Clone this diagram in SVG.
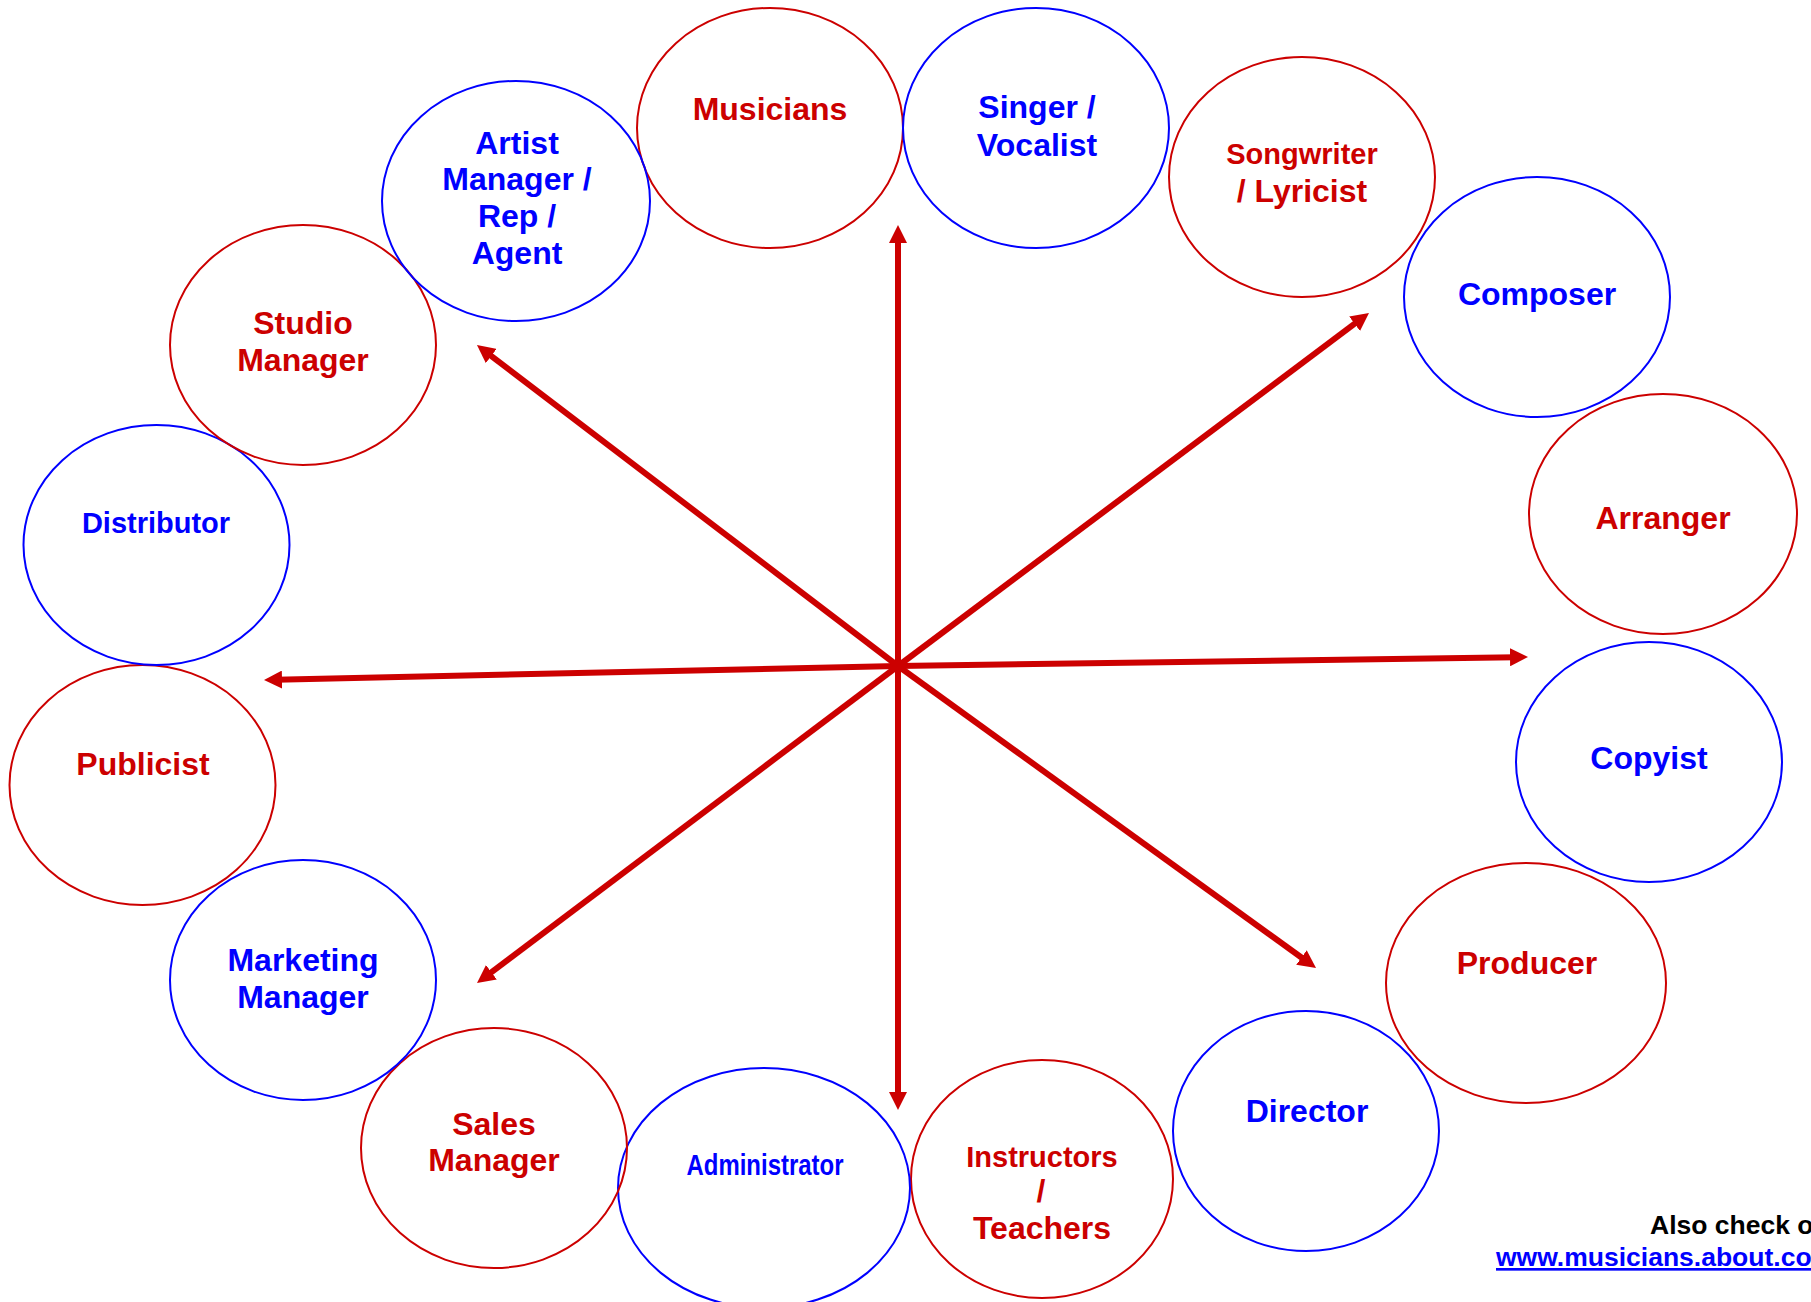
<svg xmlns="http://www.w3.org/2000/svg" width="1811" height="1302" viewBox="0 0 1811 1302">
<style>
.r ellipse{fill:none;stroke:#CC0000;stroke-width:2}
.b ellipse{fill:none;stroke:#0000FF;stroke-width:2}
text{font-family:"Liberation Sans",Arial,sans-serif;font-weight:bold;text-anchor:middle}
.r text{fill:#CC0000}
.b text{fill:#0000FF}
.f32{font-size:32px}
.f29{font-size:29px}
#connectors line{stroke:#CC0000;stroke-width:6;marker-end:url(#ah)}
.note{fill:#000;font-size:26.5px;text-anchor:start}
.link{fill:#0000FF;font-size:26.5px;text-anchor:start;text-decoration:underline}
</style>
<defs>
<marker id="ah" markerUnits="userSpaceOnUse" markerWidth="18" markerHeight="18" viewBox="0 0 18 18" refX="6" refY="9" orient="auto">
<path d="M0,0 L18,9 L0,18 z" fill="#CC0000"/>
</marker>
</defs>
<rect width="1811" height="1302" fill="#fff"/>

<g id="musicians" class="r"><ellipse cx="770" cy="128" rx="133" ry="120"/><text class="f32" x="770" y="120">Musicians</text></g>
<g id="singer" class="b"><ellipse cx="1036" cy="128" rx="133" ry="120"/><text class="f32" x="1037" y="118">Singer /</text><text class="f32" x="1037" y="156">Vocalist</text></g>
<g id="songwriter" class="r"><ellipse cx="1302" cy="177" rx="133" ry="120"/><text class="f29" x="1302" y="164">Songwriter</text><text class="f32" x="1302" y="202">/ Lyricist</text></g>
<g id="composer" class="b"><ellipse cx="1537" cy="297" rx="133" ry="120"/><text class="f32" x="1537" y="305">Composer</text></g>
<g id="arranger" class="r"><ellipse cx="1663" cy="514" rx="134" ry="120"/><text class="f32" x="1663" y="529">Arranger</text></g>
<g id="copyist" class="b"><ellipse cx="1649" cy="762" rx="133" ry="120"/><text class="f32" x="1649" y="769">Copyist</text></g>
<g id="producer" class="r"><ellipse cx="1526" cy="983" rx="140" ry="120"/><text class="f32" x="1527" y="974">Producer</text></g>
<g id="director" class="b"><ellipse cx="1306" cy="1131" rx="133" ry="120"/><text class="f32" x="1307" y="1122">Director</text></g>
<g id="instructors" class="r"><ellipse cx="1042" cy="1179" rx="131" ry="119"/><text class="f29" x="1042" y="1167">Instructors</text><text class="f32" x="1041" y="1202">/</text><text class="f32" x="1042" y="1239">Teachers</text></g>
<g id="administrator" class="b"><ellipse cx="764" cy="1188" rx="146" ry="120"/><text x="765" y="1175" style="font-size:30px" textLength="157" lengthAdjust="spacingAndGlyphs">Administrator</text></g>
<g id="sales" class="r"><ellipse cx="494" cy="1148" rx="133" ry="120"/><text class="f32" x="494" y="1135">Sales</text><text class="f32" x="494" y="1171">Manager</text></g>
<g id="marketing" class="b"><ellipse cx="303" cy="980" rx="133" ry="120"/><text class="f32" x="303" y="971">Marketing</text><text class="f32" x="303" y="1008">Manager</text></g>
<g id="publicist" class="r"><ellipse cx="142.5" cy="785" rx="133" ry="120"/><text class="f32" x="143" y="775">Publicist</text></g>
<g id="distributor" class="b"><ellipse cx="156.5" cy="545" rx="133" ry="120"/><text class="f29" x="156" y="533">Distributor</text></g>
<g id="studio" class="r"><ellipse cx="303" cy="345" rx="133" ry="120"/><text class="f32" x="303" y="334">Studio</text><text class="f32" x="303" y="371">Manager</text></g>
<g id="artist" class="b"><ellipse cx="516" cy="201" rx="134" ry="120"/><text class="f32" x="517" y="154">Artist</text><text class="f32" x="517" y="190">Manager /</text><text class="f32" x="517" y="227">Rep /</text><text class="f32" x="517" y="264">Agent</text></g>

<g id="connectors">
<line x1="898" y1="666" x2="898" y2="237"/>
<line x1="898" y1="666" x2="898" y2="1098"/>
<line x1="898" y1="666" x2="276" y2="679.7"/>
<line x1="898" y1="666" x2="1516" y2="657.2"/>
<line x1="898" y1="666" x2="486.5" y2="352.3"/>
<line x1="898" y1="666" x2="1359.4" y2="320.2"/>
<line x1="898" y1="666" x2="486.6" y2="975.8"/>
<line x1="898" y1="666" x2="1306.3" y2="961"/>
</g>

<g id="footer">
<text class="note" x="1650" y="1234">Also check o</text>
<text class="link" x="1496" y="1266">www.musicians.about.co</text>
</g>
</svg>
